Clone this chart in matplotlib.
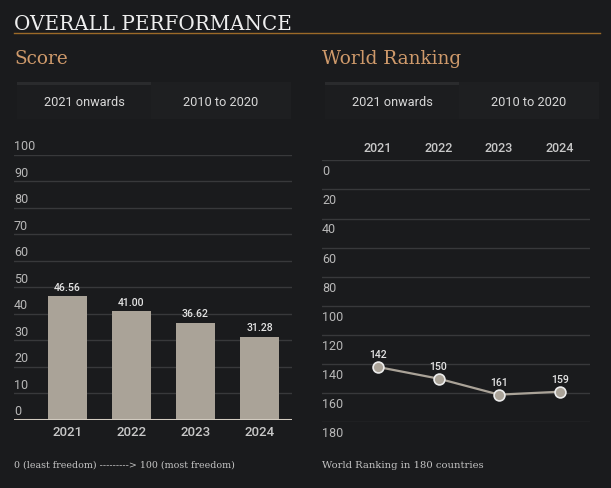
import matplotlib
matplotlib.use("Agg")
import matplotlib.pyplot as plt
from matplotlib.patches import Rectangle
import matplotlib.transforms as mtransforms

years = ["2021", "2022", "2023", "2024"]
scores = [46.56, 41.00, 36.62, 31.28]
ranks = [142, 150, 161, 159]
score_ticks = list(range(0, 101, 10))
rank_ticks = list(range(0, 181, 20))
tab_labels = ["2021 onwards", "2010 to 2020"]

W, H = 611, 489
BG = "#1a1b1d"
BAR = "#aaa398"
GRID = "#38393b"
TICK = "#b8b8b8"
SERIF = ["DejaVu Serif"]
SANS = ["Roboto", "DejaVu Sans"]

fig = plt.figure(figsize=(W / 100, H / 100), dpi=100, facecolor=BG)


def px_axes(left, top, right, bottom):
    return fig.add_axes([left / W, 1 - bottom / H, (right - left) / W, (bottom - top) / H])


# overlay in pixel coords for headings, tabs, notes
ov = px_axes(0, 0, W, H)
ov.set_xlim(0, W)
ov.set_ylim(H, 0)
ov.axis("off")
ov.set_zorder(-1)

ov.text(14, 30, "OVERALL PERFORMANCE", fontsize=14.3, family=SERIF, color="#eeeeee", va="baseline")
ov.plot([14, 600], [34, 34], color="#9c6a28", lw=1)
ov.text(14, 64.5, "Score", fontsize=13.3, family=SERIF, color="#cf9a6b", va="baseline")
ov.text(322, 64.5, "World Ranking", fontsize=13.3, family=SERIF, color="#cf9a6b", va="baseline")

for x0, xm, x1 in [(17, 151, 291), (325, 459, 599)]:
    ov.add_patch(Rectangle((x0, 83), xm - x0, 37, color="#1c1d1f", lw=0))
    ov.add_patch(Rectangle((x0, 83), xm - x0, 3, color="#2a2b2d", lw=0))
    ov.add_patch(Rectangle((xm, 83), x1 - xm, 37, color="#1e1f21", lw=0))
    ov.text((x0 + xm) / 2, 103, tab_labels[0], fontsize=9.2, family=SANS, color="#d8d8d8",
            ha="center", va="center")
    ov.text((xm + x1) / 2, 103, tab_labels[1], fontsize=9.2, family=SANS, color="#d8d8d8",
            ha="center", va="center")

ov.text(14, 465, "0 (least freedom) ---------> 100 (most freedom)", fontsize=6.8,
        family=SERIF, color="#c4c4c4", va="center")
ov.text(322, 465, "World Ranking in 180 countries", fontsize=7.2,
        family=SERIF, color="#c4c4c4", va="center")

# score bar chart
ax = px_axes(14, 156, 292, 420.7)
ax.set_facecolor("none")
ax.axis("off")
ax.set_xlim(-0.836, 3.508)
ax.set_ylim(0, 100)
for t in score_ticks[1:]:
    ax.axhline(t, color=GRID, lw=1, zorder=0)
ax.axhline(0, color="#d2cbc0", lw=2.2, zorder=3)
up = mtransforms.offset_copy(ax.transData, fig=fig, x=0, y=9, units="dots")
for t in score_ticks:
    ax.text(-0.836, t, str(t), transform=up,
            fontsize=9, family=SANS, color=TICK, ha="left", va="center", clip_on=False)
xs = range(len(years))
ax.bar(xs, scores, width=0.61, color=BAR, zorder=2)
lab = mtransforms.offset_copy(ax.transData, fig=fig, x=0, y=9.5, units="dots")
for i, v in enumerate(scores):
    ax.text(i, v, f"{v:.2f}", transform=lab, fontsize=7.6, family=SANS, color="#e4e4e4",
            ha="center", va="center", fontweight="medium")
for i, y in enumerate(years):
    ax.text(i, -4.6, y, fontsize=9.5, family=SANS, color="#c8c8c8", ha="center",
            va="center", fontweight="medium", clip_on=False)

# world ranking line chart
ax2 = px_axes(322, 161.3, 590, 423.3)
ax2.set_facecolor("none")
ax2.axis("off")
ax2.set_xlim(-0.924, 3.5)
ax2.set_ylim(180, 0)
for t in rank_ticks:
    ax2.axhline(t, color=GRID, lw=1, zorder=0)
down = mtransforms.offset_copy(ax2.transData, fig=fig, x=0, y=-10.4, units="dots")
for t in rank_ticks:
    ax2.text(-0.924, t, str(t), transform=down, fontsize=9, family=SANS, color=TICK,
             ha="left", va="center", clip_on=False)
for i, y in enumerate(years):
    ax2.text(i, -8.7, y, fontsize=9, family=SANS, color="#c8c8c8", ha="center",
             va="center", fontweight="medium", clip_on=False)
ax2.plot(range(len(ranks)), ranks, color=BAR, lw=1.6, marker="o", ms=7.8,
         mfc=BAR, mec="#ececec", mew=1.2, zorder=3, clip_on=False)
lab2 = mtransforms.offset_copy(ax2.transData, fig=fig, x=0, y=12.5, units="dots")
for i, v in enumerate(ranks):
    ax2.text(i, v, str(v), transform=lab2, fontsize=7.6, family=SANS, color="#e4e4e4",
             ha="center", va="center", fontweight="medium")

fig.savefig("out.png", dpi=100, facecolor=BG)
